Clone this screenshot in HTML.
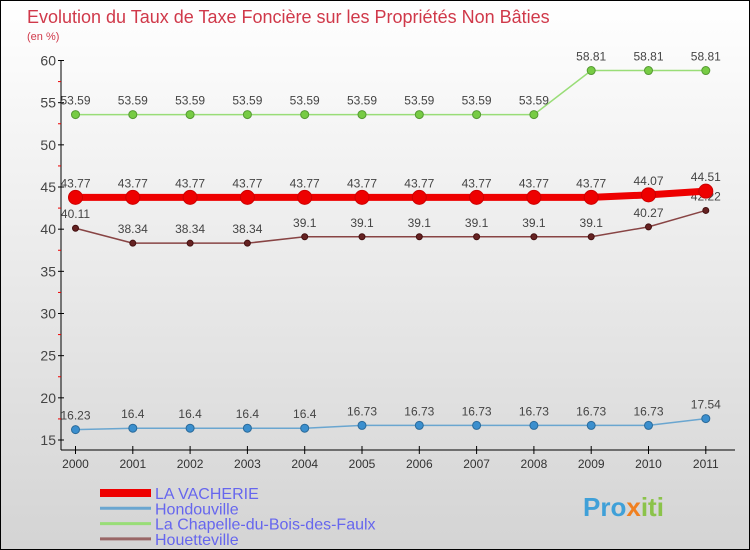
<!DOCTYPE html>
<html><head><meta charset="utf-8"><style>
body{margin:0;}
#c{width:750px;height:550px;position:relative;box-sizing:border-box;border:1px solid #000;background:linear-gradient(#ffffff,#d4d4d4);font-family:"Liberation Sans",sans-serif;overflow:hidden}
</style></head><body>
<div id="c">
<svg width="750" height="550" style="position:absolute;left:-1px;top:-1px" id="svg">
<text x="27" y="23" font-size="18" fill="#d0394a">Evolution du Taux de Taxe Foncière sur les Propriétés Non Bâties</text>
<text x="27" y="40" font-size="11" fill="#d0394a">(en %)</text>
<g id="axes"></g><g id="series"></g>
<g id="legend"></g>
<text x="583" y="516" font-size="26" font-weight="bold" fill="#3fa0d8">Pro<tspan fill="#f08020">x</tspan><tspan fill="#8bc34a">iti</tspan></text>
</svg>
</div>
<script>
const years=["2000","2001","2002","2003","2004","2005","2006","2007","2008","2009","2010","2011"];
const yTicks=[15,20,25,30,35,40,45,50,55,60];
const vacherie=[43.77,43.77,43.77,43.77,43.77,43.77,43.77,43.77,43.77,43.77,44.07,44.51];
const hondouville=[16.23,16.4,16.4,16.4,16.4,16.73,16.73,16.73,16.73,16.73,16.73,17.54];
const chapelle=[53.59,53.59,53.59,53.59,53.59,53.59,53.59,53.59,53.59,58.81,58.81,58.81];
const houetteville=[40.11,38.34,38.34,38.34,39.1,39.1,39.1,39.1,39.1,39.1,40.27,42.22];
const NS="http://www.w3.org/2000/svg";
function X(i){return 75.5+i*57.3;}
function Y(v){return 440-(v-15)*8.433;}
function mk(tag,attrs,parent){const e=document.createElementNS(NS,tag);for(const k in attrs)e.setAttribute(k,attrs[k]);parent.appendChild(e);return e;}
const ax=document.getElementById('axes');
let l=mk('line',{x1:61,y1:60,x2:61,y2:450,stroke:'#000'},ax);


l=mk('line',{x1:61,y1:450,x2:735,y2:450,stroke:'#000'},ax);


yTicks.forEach((t,i)=>{
 mk('line',{x1:58,y1:Y(t),x2:64,y2:Y(t),stroke:'#000'},ax);
 if(i<yTicks.length-1) mk('line',{x1:58,y1:Y(t+2.5),x2:61,y2:Y(t+2.5),stroke:'#e00'},ax);
 const tx=mk('text',{x:56,y:Y(t)+5,'font-size':14,'text-anchor':'end',fill:'#444'},ax);
 tx.textContent=t;
 
 
});
years.forEach((y,i)=>{
 mk('line',{x1:X(i),y1:446,x2:X(i),y2:454,stroke:'#000'},ax);
 const tx=mk('text',{x:X(i),y:468,'font-size':12,'text-anchor':'middle',fill:'#333'},ax);
 tx.textContent=y;
 
 
});
const sg=document.getElementById('series');
function series(name,vals,color,w,r,dot,dotStroke){
 const g=mk('g',{},sg);
 
 
 const p=mk('polyline',{points:vals.map((v,i)=>X(i)+','+Y(v)).join(' '),fill:'none',stroke:color,'stroke-width':w},g);
 
 
 vals.forEach((v,i)=>{
  const c=mk('circle',{cx:X(i),cy:Y(v),r:r,fill:dot,stroke:dotStroke,'stroke-width':1},g);
  
  
  const t=mk('text',{x:X(i),y:Y(v)-10,'font-size':12,'text-anchor':'middle',fill:'#444'},g);
  t.textContent=v;
  
  
 });
}
series('chapelle',chapelle,'#99dd77',1.5,4,'#77cc44','#559933');
series('houetteville',houetteville,'#884444',1.5,3,'#662222','#441111');
series('hondouville',hondouville,'#6aa6d0',1.5,4,'#3b8fce','#2a6a9a');
series('vacherie',vacherie,'#ee0000',7,7,'#ee0000','#cc0000');
const lg=document.getElementById('legend');
const names=["LA VACHERIE","Hondouville","La Chapelle-du-Bois-des-Faulx","Houetteville"];
const cols=['#ee0000','#6aa6d0','#99dd77','#996666'];
const ws=[8,3,3,3];
names.forEach((n,i)=>{
 const yy=493+i*15.3;
 const ln=mk('line',{x1:100,y1:yy,x2:151,y2:yy,stroke:cols[i],'stroke-width':ws[i]},lg);
 
 
 const t=mk('text',{x:155,y:yy+6,'font-size':16,fill:'#6666ee'},lg);
 t.textContent=n;
 
 
});
</script>
</body></html>
